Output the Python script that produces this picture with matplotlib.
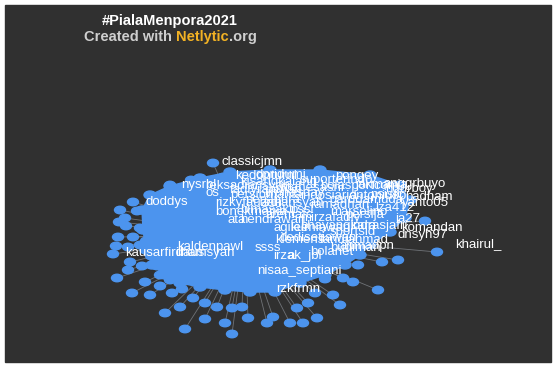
import matplotlib
matplotlib.use('Agg')
import matplotlib.pyplot as plt
from matplotlib.patches import Ellipse, Polygon, Rectangle

# Datos: posiciones de nodos (en pixeles de la imagen)
outer_x = [118, 133, 140, 113, 130, 142, 157, 128, 117, 145, 160, 170, 160, 132, 150, 172, 182,
           180, 165, 193, 205, 217, 232, 242, 205, 225, 185, 232, 248, 267, 273, 290, 303, 297,
           308, 317, 340, 333, 315, 353, 343, 325, 378, 382, 398, 358, 437, 170, 191, 199, 223,
           133, 120, 125, 126, 119, 213, 425, 140, 137, 151, 146, 116, 128]
outer_y = [237, 237, 245, 254, 262, 266, 266, 270, 278, 282, 275, 280, 286, 293, 295, 293, 289,
           307, 313, 298, 303, 307, 308, 307, 319, 323, 329, 334, 318, 323, 317, 323, 323, 308,
           303, 318, 305, 295, 293, 282, 278, 279, 290, 262, 260, 265, 252, 185, 180, 180, 177,
           202, 210, 218, 226, 222, 163, 221, 228, 211, 256, 241, 246, 247]

# Nucleo del grafo (nodos solapados)
core_x = [150, 170, 200, 230, 270, 320, 370, 400, 410, 405, 390, 370, 360, 345, 325, 300, 275,
          250, 225, 200, 180, 165, 152, 146, 143, 142]
core_y = [195, 186, 178, 172, 170, 170, 175, 185, 200, 218, 232, 245, 255, 265, 275, 283, 292,
          292, 290, 287, 283, 275, 265, 250, 230, 210]

hub = (245, 235)

# Etiquetas de usuarios
labels = ["kedonturni", "dpridumi", "pongey", "kisangkalang", "anggrbuyo", "ngurboy",
          "reksadiansyah", "fadlyrahman", "mahesasnr", "bolasportcom", "os", "persibmania",
          "badham", "indosiarid", "antoniusp", "yanto05", "doddys", "rizkyfauzan", "ardiansyah",
          "ramadhan_", "lza412", "bimasakti", "pssi", "marselino", "ata", "hendrawan", "ia27",
          "mirzafadly", "agilee", "kurniawan", "komandan", "indrasjafri", "dnsyh97",
          "dedisetiawan", "klemens", "fandiahmad", "khairul_", "ahmadpn", "budiman",
          "kaldenpawl", "ssss", "kausarfirdaus", "ilhamsyah", "irza", "ak_jbl",
          "nisaa_septiani", "rzkfrmn", "nysrbl", "classicjmn",
          "persipura", "timnasday", "suporterindo", "garudamuda", "jakmania", "bonekmania",
          "aremafc", "persija", "psisfc", "bhayangkara", "sportsid", "bolanet"]
lab_x = [235, 255, 335, 240, 383, 385, 205, 230, 280, 320, 206, 230, 405, 300, 350, 402, 145,
         215, 260, 310, 375, 240, 290, 330, 227, 240, 395, 300, 273, 290, 401, 350, 398, 280,
         275, 320, 455, 340, 330, 177, 255, 125, 175, 273, 288, 257, 276, 181, 222,
         245, 265, 300, 330, 355, 215, 265, 345, 370, 300, 330, 310]
lab_y = [176, 175, 176, 182, 184, 189, 186, 190, 188, 186, 193, 195, 197, 196, 196, 203, 202,
         203, 203, 204, 208, 210, 210, 212, 220, 220, 219, 218, 228, 228, 228, 226, 235, 238,
         240, 240, 244, 246, 248, 247, 248, 253, 253, 256, 256, 271, 289, 185, 162,
         200, 193, 180, 200, 185, 212, 215, 215, 195, 226, 232, 252]

fig = plt.figure(figsize=(5.56, 3.67), dpi=100, facecolor='white')
ax = fig.add_axes([0, 0, 1, 1])
ax.set_xlim(0, 556)
ax.set_ylim(367, 0)
ax.axis('off')

ax.add_patch(Rectangle((5, 5), 546, 357, color='#303030', zorder=0))

blue = '#4c94ee'

# aristas
for x, y in zip(outer_x, outer_y):
    ax.plot([x, hub[0]], [y, hub[1]], color='#8a8f96', lw=0.6, alpha=0.7, zorder=1)

ax.add_patch(Polygon(list(zip(core_x, core_y)), closed=True, color=blue, zorder=2))
for x, y in zip(core_x, core_y):
    ax.add_patch(Ellipse((x, y), 12, 8, color=blue, zorder=2))
for x, y in zip(outer_x, outer_y):
    ax.add_patch(Ellipse((x, y), 11, 7.5, color=blue, zorder=3))

for s, x, y in zip(labels, lab_x, lab_y):
    ax.text(x, y, s, color='white', fontsize=9.5, family='Liberation Sans',
            ha='left', va='center', zorder=4)

# titulo
ax.text(170, 21, '#PialaMenpora2021', color='white', fontsize=10.5, fontweight='bold',
        family='Liberation Sans', ha='center', va='center', zorder=5)
r = fig.canvas.get_renderer()
t1 = ax.text(84, 37, 'Created with ', color='#cfcfcf', fontsize=10.5, fontweight='bold',
             family='Liberation Sans', ha='left', va='center', zorder=5)
bb = t1.get_window_extent(r)
x1 = ax.transData.inverted().transform((bb.x1, 0))[0]
t2 = ax.text(x1, 37, 'Netlytic', color='#f2b224', fontsize=10.5, fontweight='bold',
             family='Liberation Sans', ha='left', va='center', zorder=5)
bb = t2.get_window_extent(r)
x2 = ax.transData.inverted().transform((bb.x1, 0))[0]
ax.text(x2, 37, '.org', color='#cfcfcf', fontsize=10.5, fontweight='bold',
        family='Liberation Sans', ha='left', va='center', zorder=5)

plt.savefig('out.png', dpi=100, facecolor='white')
